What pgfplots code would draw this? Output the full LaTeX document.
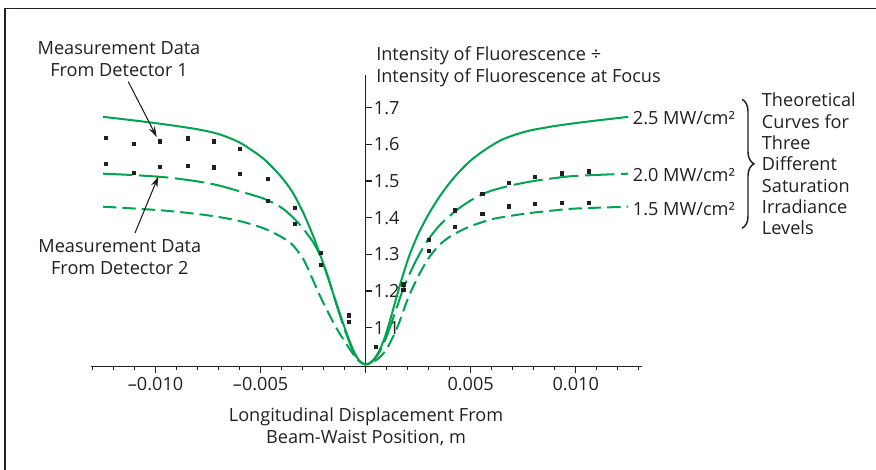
\documentclass[border=0pt]{standalone}
\usepackage{fontspec}
\setmainfont{Open Sans}
\usepackage{pgfplots}
\pgfplotsset{compat=1.18}
\usetikzlibrary{decorations.pathreplacing,arrows.meta}
\definecolor{curvegreen}{RGB}{0,163,80}
\definecolor{ink}{RGB}{35,31,32}

\begin{document}
\begin{tikzpicture}[font=\fontsize{13.6}{16.4}\selectfont, text=ink]
\begin{axis}[
  at={(67.875pt,-275.025pt)}, anchor=south west,
  scale only axis, width=413.85pt, height=218.8pt,
  xmin=-0.0131, xmax=0.01317, ymin=0.99373, ymax=1.7892,
  axis x line=bottom, axis y line=center,
  axis line style={-, ink, line width=1pt},
  inner axis line style={-},
  clip=false,
  scaled x ticks=false, scaled y ticks=false,
  xtick={-0.01,-0.005,0,0.005,0.01},
  xticklabels={{–0.010},{–0.005},{},{0.005},{0.010}},
  minor xtick={-0.013,-0.012,-0.011,-0.009,-0.008,-0.007,-0.006,-0.004,-0.003,-0.002,-0.001,0.001,0.002,0.003,0.004,0.006,0.007,0.008,0.009,0.011,0.012,0.013},
  ytick={1.1,1.2,1.3,1.4,1.5,1.6,1.7},
  yticklabels={1.1,1.2,1.3,1.4,1.5,1.6,1.7},
  xtick align=outside, ytick align=inside,
  major tick length=5pt, minor tick length=2.6pt,
  tick style={ink, line width=0.9pt},
  yticklabel style={anchor=west, inner sep=0pt, xshift=6pt},
  xticklabel style={inner sep=0pt, yshift=-3pt},
]
% 2.5 MW/cm2
\addplot[curvegreen, line width=1.5pt, smooth] table {
-0.0125 1.675
-0.011 1.665
-0.0095 1.654
-0.008 1.641
-0.007 1.628
-0.006 1.605
-0.005 1.567
-0.0045 1.541
-0.004 1.510
-0.0035 1.471
-0.003 1.417
-0.0025 1.350
-0.002 1.272
-0.0015 1.185
-0.001 1.100
-0.0006 1.040
-0.0003 1.010
0 1.000
0.0003 1.008
0.0006 1.032
0.0009 1.072
0.0012 1.128
0.0015 1.190
0.0018 1.248
0.0021 1.300
0.0025 1.355
0.003 1.410
0.0035 1.456
0.004 1.495
0.0045 1.528
0.005 1.556
0.0055 1.578
0.006 1.597
0.0065 1.613
0.007 1.624
0.0075 1.633
0.008 1.640
0.0085 1.645
0.009 1.650
0.010 1.658
0.011 1.665
0.0125 1.675
};
% 2.0 MW/cm2
\addplot[curvegreen, line width=1.5pt, smooth, dash pattern=on 22pt off 5pt] table {
-0.0125 1.520
-0.011 1.516
-0.0095 1.510
-0.008 1.499
-0.007 1.488
-0.006 1.472
-0.005 1.455
-0.0045 1.443
-0.004 1.427
-0.0035 1.403
-0.003 1.372
-0.0025 1.333
-0.0022 1.300
-0.0018 1.240
-0.0014 1.165
-0.001 1.095
-0.0006 1.036
-0.0003 1.009
0 1.000
0.0003 1.007
0.0006 1.028
0.0009 1.062
0.0012 1.108
0.0015 1.158
0.0018 1.208
0.0022 1.260
0.0026 1.305
0.003 1.342
0.0035 1.378
0.004 1.405
0.0045 1.428
0.005 1.447
0.0055 1.462
0.006 1.474
0.007 1.489
0.008 1.500
0.009 1.508
0.010 1.514
0.0125 1.520
};
% 1.5 MW/cm2
\addplot[curvegreen, line width=1.5pt, smooth, dash pattern=on 10pt off 4.5pt] table {
-0.0125 1.430
-0.011 1.425
-0.0095 1.419
-0.008 1.410
-0.007 1.402
-0.006 1.391
-0.005 1.374
-0.0045 1.362
-0.004 1.347
-0.0035 1.327
-0.003 1.290
-0.0027 1.255
-0.0022 1.190
-0.0017 1.132
-0.0013 1.090
-0.0009 1.054
-0.0005 1.020
-0.00025 1.006
0 1.000
0.0003 1.005
0.0006 1.016
0.001 1.042
0.0015 1.100
0.002 1.178
0.0025 1.240
0.003 1.290
0.0035 1.325
0.004 1.348
0.0045 1.364
0.005 1.377
0.0055 1.387
0.006 1.396
0.007 1.406
0.008 1.414
0.009 1.420
0.010 1.425
0.0125 1.430
};
% detector 1
\addplot[only marks, mark=square*, mark size=1.3pt, ink] table {
-0.01238 1.618
-0.01105 1.602
-0.00981 1.608
-0.00848 1.616
-0.00722 1.608
-0.00599 1.588
-0.00467 1.506
-0.00337 1.427
-0.00214 1.304
-0.00081 1.134
0.00049 1.048
0.00179 1.218
0.00301 1.340
0.00425 1.420
0.00554 1.465
0.00682 1.495
0.00806 1.512
0.00933 1.521
0.01062 1.526
};
% detector 2
\addplot[only marks, mark=square*, mark size=1.3pt, ink] table {
-0.01238 1.547
-0.01105 1.522
-0.00981 1.539
-0.00848 1.542
-0.00722 1.537
-0.00599 1.520
-0.00467 1.446
-0.00337 1.383
-0.00214 1.272
-0.00081 1.116
0.00049 1.048
0.00179 1.203
0.00301 1.310
0.00425 1.376
0.00554 1.411
0.00682 1.431
0.00806 1.438
0.00933 1.441
0.01062 1.441
};
\end{axis}
\begin{scope}[x=0.75pt, y=-0.75pt, every node/.style={inner sep=0pt}]
\draw[ink, line width=1pt] (5,470) -- (5,8.3) -- (876,8.3);
\node[align=center] at (119,59) {Measurement Data\\From Detector 1};
\draw[ink, line width=0.8pt, -{Stealth[length=8pt,width=5pt]}] (128.3,81.7) -- (156.7,137);
\node[align=center] at (119.8,257.5) {Measurement Data\\From Detector 2};
\draw[ink, line width=0.8pt, -{Stealth[length=8pt,width=5pt]}] (135,233) -- (158.3,176.5);
\node[align=left, anchor=west] at (376,66.5) {Intensity of Fluorescence ÷\\Intensity of Fluorescence at Focus};
\node[align=center] at (366,426.5) {Longitudinal Displacement From\\Beam-Waist Position, m};
\node[anchor=base west] at (632.7,124.9) {2.5 MW/cm²};
\node[anchor=base west] at (632.7,181.6) {2.0 MW/cm²};
\node[anchor=base west] at (632.7,215.2) {1.5 MW/cm²};
\draw[ink, line width=1.1pt, decorate, decoration={brace, amplitude=9pt}] (742,99.3) -- (742,228.3);
\node[align=left, anchor=west, font=\fontsize{13.6}{16}\selectfont] at (761.7,164.2) {Theoretical\\Curves for\\Three\\Different\\Saturation\\Irradiance\\Levels};
\pgfresetboundingbox
\path[use as bounding box] (0,0) rectangle (876,470);
\end{scope}
\end{tikzpicture}
\end{document}
